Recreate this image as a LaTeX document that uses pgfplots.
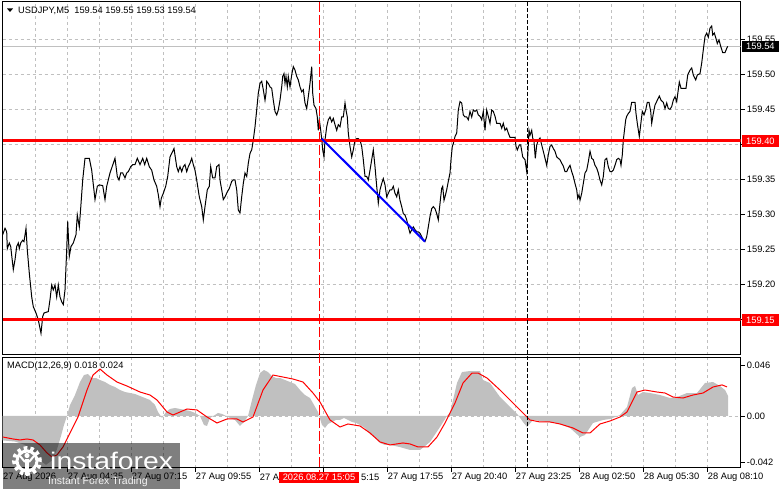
\documentclass[border=0pt]{standalone}
\usepackage{pgfplots}
\pgfplotsset{compat=1.18}
\usepackage{fontspec}
\setmainfont{Liberation Sans}
\definecolor{silverc}{HTML}{C0C0C0}
\definecolor{gridc}{HTML}{C0C0C0}
\newcommand\lab{\fontsize{9.3}{11}\selectfont}
\begin{document}
\begin{tikzpicture}[x=1pt,y=1pt]
\path[use as bounding box, fill=white] (0,0) rectangle (781,489);

\begin{axis}[
  at={(2.7pt,134pt)}, anchor=south west,
  scale only axis, width=738pt, height=353pt,
  xmin=2.7, xmax=740.7, ymin=159.0990, ymax=159.6033,
  axis line style={black, line width=1pt},
  xtick={35.7,67.7,99.7,131.7,163.7,195.7,227.7,259.7,291.7,323.7,355.7,387.7,419.7,451.7,483.7,515.7,547.7,579.7,611.7,643.7,675.7,707.7},
  xticklabels={},
  xtick style={draw=none},
  xmajorgrids, ymajorgrids,
  major grid style={gridc, dash pattern=on 3pt off 3pt, line width=0.8pt},
  ytick={159.15,159.20,159.25,159.30,159.35,159.40,159.45,159.50,159.55},
  yticklabels={,159.20,159.25,159.30,159.35,,159.45,159.50,159.55},
  scaled y ticks=false,
  ytick pos=right, yticklabel pos=right,
  tick align=outside, major tick length=4pt,
  ytick style={black, line width=0.8pt},
  /pgf/number format/assume math mode=true,
  yticklabel style={font=\lab, anchor=west, inner sep=0pt, xshift=2pt},
  clip mode=individual,
]
\addplot[color=gridc, line width=1pt] coordinates {(2.7,159.5404)(740.7,159.5404)};
\addplot[black, line width=1pt] coordinates {
(2.7,159.271)(5,159.280)(6.7,159.275)(7.3,159.251)(9.3,159.259)(10.7,159.254)(13.3,159.221)(15,159.235)(16.7,159.254)(18.3,159.259)(19.3,159.251)(20.7,159.259)(22.7,159.263)(24,159.261)(26,159.280)(27.3,159.249)(29.3,159.216)(31.7,159.182)(33.3,159.168)(36,159.159)(38.3,159.149)(41,159.130)(42.7,159.154)(44,159.159)(48.3,159.161)(50,159.178)(51.7,159.199)(53.3,159.192)(55,159.199)(56.7,159.182)(58.3,159.199)(60,159.182)(61.7,159.175)(63.3,159.171)(65,159.192)(66.7,159.249)(67.7,159.290)(69.3,159.240)(71,159.254)(73.3,159.259)(76,159.271)(77.3,159.299)(79.3,159.282)(80.7,159.309)(82.7,159.349)(85,159.380)(89.3,159.380)(91.7,159.363)(95,159.321)(97.3,159.340)(99.3,159.342)(102.7,159.341)(105,159.321)(106.7,159.340)(110,159.359)(115,159.380)(117.3,159.354)(119,159.349)(120.7,159.359)(122.7,159.359)(125,159.352)(126.7,159.359)(128.3,159.361)(130.7,159.368)(132.7,159.371)(135,159.371)(137.3,159.380)(140,159.371)(142.7,159.380)(144.7,159.371)(146.7,159.380)(149.3,159.368)(151.7,159.363)(154,159.349)(156.7,159.340)(158.3,159.328)(160,159.311)(161.3,159.323)(163.3,159.330)(165.7,159.340)(167.7,159.354)(170,159.382)(172.7,159.390)(174,159.394)(176.7,159.368)(178.3,159.361)(180,159.368)(181.7,159.361)(183.3,159.368)(185,159.371)(186.7,159.361)(188.3,159.368)(190,159.373)(191.7,159.380)(193.3,159.371)(195,159.363)(196.7,159.349)(199.3,159.325)(201.7,159.311)(203.3,159.292)(205,159.311)(207.3,159.335)(209.3,159.340)(210.7,159.368)(212.7,159.352)(215,159.352)(216.7,159.368)(219,159.371)(220,159.349)(221.7,159.335)(223.3,159.321)(225,159.325)(227.3,159.332)(229.3,159.337)(231.7,159.347)(233.3,159.349)(235,159.349)(236.7,159.335)(238.3,159.306)(240,159.302)
(241.7,159.325)(243.3,159.344)(245,159.359)(246.7,159.354)(248.3,159.373)(250,159.387)(251.7,159.392)(253.3,159.406)(255,159.425)(256.7,159.449)(258.3,159.473)(260,159.487)(261.7,159.490)(263.3,159.478)(265,159.463)(266,159.473)(266.7,159.490)(268.3,159.487)(270,159.482)(271.7,159.480)(273.3,159.463)(275,159.447)(276.7,159.442)(278.3,159.449)(280,159.463)(281.7,159.482)(282.7,159.497)(284,159.501)(285,159.487)(286,159.497)(287.3,159.482)(288.3,159.497)(290,159.482)(291.7,159.499)(293.3,159.511)(295,159.506)(296.7,159.497)(298.3,159.492)(300,159.482)(301.7,159.475)(303.3,159.478)(305,159.459)(306.7,159.451)(308.3,159.468)(310,159.487)(311.7,159.511)(312.7,159.473)(314,159.456)(316,159.451)(317.3,159.439)(318.3,159.420)(319.3,159.435)(320.7,159.420)(321.7,159.408)(322.7,159.392)(324,159.382)(325,159.406)(326.7,159.425)(328.3,159.435)(330,159.439)(331.7,159.432)(333.3,159.437)(335,159.428)(336.7,159.420)(338.3,159.428)(340,159.425)(341.7,159.439)(343.3,159.439)(345,159.459)(346,159.449)(347.3,159.439)(348.3,159.416)(350,159.397)(351.7,159.382)(353.3,159.392)(355,159.406)(356.7,159.408)(358.3,159.408)(360,159.406)(361.7,159.397)(363.3,159.378)(365,159.354)(366.7,159.354)(368.3,159.349)(370,159.363)(371.7,159.378)(373.3,159.392)(375,159.368)(376.7,159.340)(378.3,159.316)(380,159.335)(381.7,159.344)(383.3,159.351)(385,159.342)(386.7,159.325)(388.3,159.330)(390,159.335)(391.7,159.335)(393.3,159.340)(395,159.330)(396.7,159.325)(398.3,159.335)(400,159.320)(401.7,159.311)(403.3,159.301)(405,159.299)(406.7,159.292)(408.3,159.282)(410,159.273)(411.7,159.278)(413.3,159.282)(415,159.278)(416.7,159.275)(418.3,159.275)(420,159.273)(421.7,159.268)(423.3,159.263)(425,159.261)(426.7,159.268)(428.3,159.282)(430,159.297)(431.7,159.308)(433.3,159.311)(435,159.308)(436.7,159.301)(438.3,159.292)(439.3,159.306)(440.7,159.325)(441.7,159.337)(442.7,159.340)(444,159.320)(445,159.325)(446.7,159.335)(448.3,159.347)(450,159.359)(451,159.378)(452.3,159.397)(453.3,159.401)(455,159.411)(456.7,159.416)(458.3,159.449)(460,159.461)(461.7,159.459)(463.3,159.442)(465,159.439)(466.7,159.439)(468.3,159.435)(470,159.447)(471.7,159.439)(473.3,159.449)(475,159.447)(476.7,159.449)(478.3,159.442)
(480,159.440)(481.7,159.435)(483.3,159.447)(485,159.420)(486.7,159.449)(488.3,159.440)(490,159.430)(491.7,159.449)(493.3,159.447)(495,159.440)(496.7,159.430)(500,159.430)(501.7,159.423)(503.3,159.430)(505,159.420)(506.7,159.423)(508.3,159.416)(510,159.410)(515,159.410)(516,159.397)(517.3,159.392)(519.3,159.399)(520.7,159.399)(522.7,159.382)(525,159.378)(526.7,159.361)(527.7,159.382)(529,159.420)(530,159.413)(531.7,159.420)(532.7,159.409)(534,159.404)(535.3,159.380)(536.7,159.399)(538.3,159.406)(540,159.409)(541.7,159.399)(543.3,159.390)(545,159.380)(546.7,159.370)(548.3,159.385)(550,159.397)(551.7,159.399)(553.3,159.394)(555,159.390)(556.7,159.382)(558.3,159.380)(560,159.378)(561.7,159.373)(563.3,159.369)(565,159.361)(566.7,159.361)(568.3,159.366)(570,159.370)(571.7,159.361)(573.3,159.354)(575,159.344)(576.7,159.335)(577.7,159.323)(579,159.328)(580,159.320)(581.7,159.330)(583.3,159.344)(585,159.359)(586.7,159.363)(588.3,159.375)(590,159.390)(591.7,159.380)(593.3,159.378)(595,159.370)(596.7,159.366)(598.3,159.359)(600,159.349)(601.7,159.342)(603.3,159.354)(605,159.378)(606.7,159.380)(608.3,159.368)(610,159.361)(611.7,159.361)(613.3,159.363)(615,159.370)(616.7,159.378)(618.3,159.380)(620,159.378)(621,159.370)(622.3,159.385)(623.3,159.406)(624.3,159.418)(625.7,159.435)(626.7,159.440)(628.3,159.444)(630,159.447)(631.7,159.460)(635,159.460)(636,159.444)(637.3,159.430)(639.3,159.411)(640.7,159.428)(642.3,159.447)(644,159.442)(645.7,159.449)(647.3,159.460)(649,159.460)(650.7,159.447)(651.7,159.430)(653.3,159.444)(655,159.456)(657.3,159.463)(659.3,159.469)(661,159.463)(663.3,159.460)(665,159.451)(666.7,159.459)(668.3,159.451)(670,159.450)(671.7,159.454)(673.3,159.463)(675,159.468)(676.7,159.461)
(679.3,159.489)(681,159.480)(683.3,159.480)(686,159.480)(687.7,159.499)(690,159.506)(691.7,159.509)(693.3,159.499)(695.7,159.492)(697.3,159.499)(700,159.501)(701.7,159.516)(703.3,159.535)(705,159.554)(706.7,159.559)(708.3,159.553)(710,159.566)(711.7,159.569)(712.7,159.556)(714.3,159.559)(716,159.551)(717.3,159.544)(719,159.549)(720.7,159.540)(722.7,159.531)(725,159.531)(726.7,159.537)(727.7,159.540)
};
\addplot[red, line width=3pt] coordinates {(2.7,159.405)(740.7,159.405)};
\addplot[red, line width=3pt] coordinates {(2.7,159.149)(740.7,159.149)};
\addplot[blue, line width=2pt] coordinates {(321.7,159.408)(425,159.261)};
\node[fill=red, text=white, anchor=west, inner sep=0pt, minimum width=37pt, minimum height=12pt, font=\lab] at (axis cs:741.7,159.405) {159.40};
\node[fill=red, text=white, anchor=west, inner sep=0pt, minimum width=37pt, minimum height=12pt, font=\lab] at (axis cs:741.7,159.149) {159.15};
\node[fill=black, text=white, anchor=west, inner sep=0pt, minimum width=37pt, minimum height=11pt, font=\lab] at (axis cs:741.7,159.5404) {159.54};
\end{axis}

\begin{axis}[
  at={(2.7pt,21.3pt)}, anchor=south west,
  scale only axis, width=738pt, height=110.4pt,
  xmin=2.7, xmax=740.7, ymin=-0.04658, ymax=0.05288,
  axis line style={black, line width=1pt},
  xtick={67.7,131.7,195.7,259.7,323.7,387.7,451.7,515.7,579.7,643.7,707.7},
  minor xtick={35.7,99.7,163.7,227.7,291.7,355.7,419.7,483.7,547.7,611.7,675.7},
  xticklabels={},
  xtick pos=bottom,
  xmajorgrids, xminorgrids,
  major grid style={gridc, dash pattern=on 3pt off 3pt, line width=0.8pt},
  minor grid style={gridc, dash pattern=on 3pt off 3pt, line width=0.8pt},
  minor tick length=0pt,
  ytick={-0.042,0,0.046},
  yticklabels={-0.042,0.00,0.046},
  scaled y ticks=false,
  ytick pos=right, yticklabel pos=right,
  tick align=outside, major tick length=4pt,
  tick style={black, line width=0.8pt},
  /pgf/number format/assume math mode=true,
  yticklabel style={font=\lab, anchor=west, inner sep=0pt, xshift=2pt},
  clip mode=individual,
]
\addplot[color=gridc, line width=0.8pt, dash pattern=on 3pt off 3pt] coordinates {(2.7,0)(740.7,0)};
\addplot[fill=silverc, draw=none] coordinates {
(2.7,0)(2.7,-0.022)(15,-0.023)(25,-0.026)(32,-0.032)(40,-0.040)(46,-0.044)(52,-0.040)(57,-0.030)(61,-0.018)(64,-0.008)(67,0)(70,0.0099)(75,0.0189)(80,0.0306)(84,0.0369)(88,0.0378)(92,0.0342)(96,0.0342)(100,0.0324)(105,0.0306)(110,0.0279)(115,0.0261)(120,0.0234)(125,0.0216)(130,0.0207)(135,0.0198)(140,0.0180)(145,0.0162)(150,0.0144)(155,0.0099)(158,0.0036)(162,-0.0018)(166,0.0036)(170,0.0063)(175,0.0072)(180,0.0063)(185,0.0054)(190,0.0045)(195,0.0027)(200,0)(204,-0.0081)(207,-0.009)(210,-0.0018)(215,0.0009)(218,0.0027)(222,0.0018)(226,0)(230,-0.0018)(235,-0.0036)(240,-0.009)(244,-0.0054)(248,0)(252,0.0144)(256,0.0279)(260,0.0387)(264,0.0414)(268,0.0396)(272,0.036)(276,0.0342)(280,0.0342)(285,0.0324)(290,0.0306)(295,0.0288)(300,0.0234)(305,0.0189)(310,0.0162)(314,0.0099)(318,0.0036)(322,-0.0081)(325,-0.0108)(328,-0.0072)(332,-0.0054)(336,-0.0036)(340,-0.0036)(344,-0.0018)(348,-0.0036)(352,-0.0054)(356,-0.0063)(360,-0.0081)(365,-0.0108)(370,-0.0162)(375,-0.0198)(380,-0.0243)(385,-0.0261)(390,-0.0261)(400,-0.028)(410,-0.0306)(420,-0.0306)(430,-0.0234)(440,-0.0099)(447,0)(450,0.0027)(457,0.0297)(462,0.0396)(470,0.0405)(480,0.0405)(483,0.0324)(490,0.0297)(500,0.0171)(510,0.0081)(518,0.0009)(523,-0.0054)(527,-0.0099)(533,-0.0036)(547,-0.0054)(557,-0.0063)(570,-0.0108)(580,-0.0189)(585,-0.0171)(593,-0.0063)(603,-0.0036)(610,-0.0027)(620,0.0009)(627,0.0081)(632,0.0252)(635,0.0270)(638,0.0189)(643,0.0216)(650,0.0207)(660,0.0189)(670,0.0162)(677,0.0171)(687,0.0207)(697,0.0207)(705,0.0297)(713,0.0306)(720,0.0270)(725,0.0234)(728,0.018)(728,0)
} \closedcycle;
\addplot[red, line width=1pt] coordinates {
(2.7,-0.0189)(13,-0.0207)(20,-0.0216)(27,-0.0207)(33,-0.0216)(40,-0.0261)(47,-0.0333)(52,-0.0369)(57,-0.0351)(63,-0.0279)(70,-0.0153)(78,-0.0009)(87,0.0234)(93,0.0369)(100,0.0423)(107,0.0369)(117,0.0306)(127,0.0270)(140,0.0216)(150,0.0189)(157,0.0144)(167,0.0036)(173,0.0009)(180,0.0036)(187,0.0063)(197,0.0054)(207,-0.0009)(217,-0.0063)(227,-0.0027)(237,-0.0027)(243,-0.0054)(253,-0.0009)(263,0.0234)(273,0.0369)(283,0.0351)(293,0.0333)(303,0.0306)(313,0.0207)(320,0.0126)(330,-0.0036)(340,-0.0099)(348,-0.0072)(360,-0.0090)(370,-0.0153)(380,-0.0234)(390,-0.0261)(403,-0.0243)(410,-0.0252)(418,-0.0279)(428,-0.0279)(437,-0.0189)(445,-0.0063)(455,0.0117)(463,0.0297)(472,0.0387)(478,0.0387)(487,0.0342)(500,0.0234)(513,0.0117)(523,0.0027)(530,-0.0036)(540,-0.0054)(550,-0.0054)(560,-0.0072)(573,-0.0108)(583,-0.0153)(590,-0.0153)(600,-0.0072)(610,-0.0045)(620,-0.0009)(627,0.0036)(637,0.0216)(645,0.0234)(657,0.0216)(665,0.0207)(673,0.0171)(683,0.0162)(693,0.0189)(703,0.0207)(713,0.0261)(722,0.0280)(727,0.0262)
};
\end{axis}

% vertical markers
\draw[red, line width=1pt, dash pattern=on 10pt off 3pt] (319.3,487) -- (319.3,17);
\draw[black, line width=1pt, dash pattern=on 4pt off 2pt] (527.3,487) -- (527.3,21.3);

% titles
\fill (7,480.5) -- (13,480.5) -- (10,477) -- cycle;
\node[anchor=west, inner sep=0pt, font=\lab] at (18,478) {USDJPY,M5\ \ 159.54 159.55 159.53 159.54};
\node[anchor=west, inner sep=0pt, font=\lab] at (7,123) {MACD(12,26,9) 0.018 0.024};

% time labels
\foreach \xx/\tt in {3/27 Aug 2026, 67.7/27 Aug 04:35, 131.7/27 Aug 07:15, 195.7/27 Aug 09:55, 259.7/27 A, 360.9/5:15, 387.7/27 Aug 17:55, 451.7/27 Aug 20:40, 515.7/27 Aug 23:25, 579.7/28 Aug 02:50, 643.7/28 Aug 05:30, 707.7/28 Aug 08:10}
  \node[anchor=west, inner sep=0pt, font=\lab] at (\xx,11.5) {\tt};
\node[fill=red, text=white, inner sep=0pt, minimum width=80pt, minimum height=11.5pt, font=\lab] at (319,11.5) {2026.08.27 15:05};

% watermark
\fill[black, opacity=0.5] (3,0) rectangle (180,46);
\begin{scope}[white]
\draw[line width=4pt, dash pattern=on 3.5pt off 3.2pt] (27,28) circle (13);
\draw[line width=3pt] (27,28) circle (10);
\fill (27,33.5) circle (2.6);
\fill (25.3,14) rectangle (28.7,30);
\draw[line width=2pt] (20,33) -- (25,27) (34,33) -- (29,27);
\end{scope}
\node[anchor=base west, inner sep=0pt, text=white, font=\fontsize{24}{24}\selectfont, xscale=1.18] at (50,19) {instaforex};
\node[anchor=base west, inner sep=0pt, text=white, opacity=0.9, font=\fontsize{10.5}{12}\selectfont] at (48,4.5) {Instant Forex Trading};
\end{tikzpicture}
\end{document}
